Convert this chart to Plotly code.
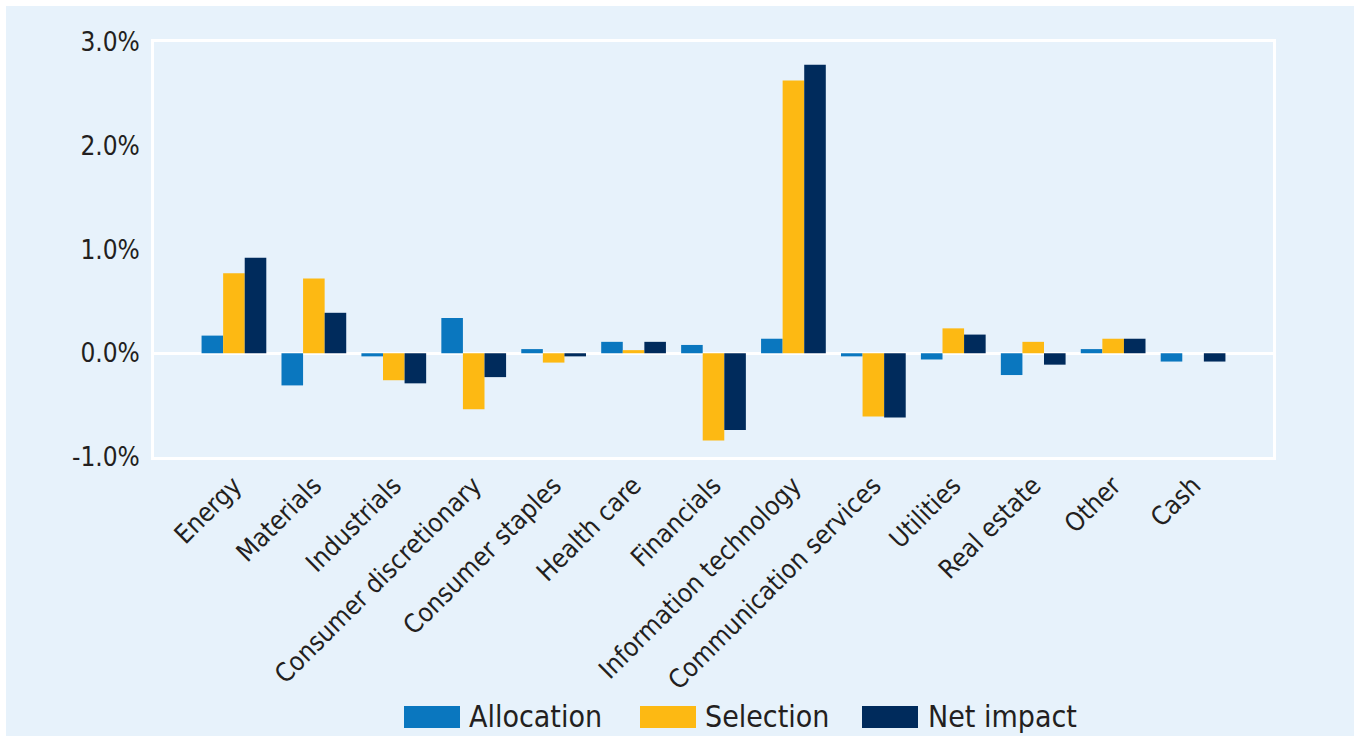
import plotly.graph_objects as go

categories = ["Energy", "Materials", "Industrials", "Consumer discretionary",
              "Consumer staples", "Health care", "Financials", "Information technology",
              "Communication services", "Utilities", "Real estate", "Other", "Cash"]
allocation = [0.17, -0.31, -0.03, 0.34, 0.04, 0.11, 0.08, 0.14, -0.03, -0.06, -0.21, 0.04, -0.08]
selection = [0.77, 0.72, -0.26, -0.54, -0.09, 0.03, -0.84, 2.63, -0.61, 0.24, 0.11, 0.14, 0.0]
net_impact = [0.92, 0.39, -0.29, -0.23, -0.03, 0.11, -0.74, 2.78, -0.62, 0.18, -0.11, 0.14, -0.08]
series_names = ["Allocation", "Selection", "Net impact"]
colors = ["#0A77BF", "#FDB913", "#002B5C"]
y_ticks = [-1, 0, 1, 2, 3]
y_tick_labels = [f"{v:.1f}%" for v in y_ticks]

BG = "#E7F2FB"
TXT = "#231F20"
FONT = "DejaVu Sans Condensed, Liberation Sans Narrow, Arial Narrow, sans-serif"

W, H = 1360, 738
L, R, T, B = 154, 87, 42, 281
pw, ph = W - L - R, H - T - B


def px_x(x):
    return (x - L) / pw


def px_y(y):
    return (H - B - y) / ph


fig = go.Figure()
for name, vals, col in zip(series_names, [allocation, selection, net_impact], colors):
    fig.add_trace(go.Bar(x=categories, y=vals, name=name, marker_color=col,
                         marker_line_width=0, showlegend=False))

shapes = [dict(type="rect", xref="paper", yref="paper", layer="below",
               x0=px_x(6), x1=px_x(1354), y0=px_y(736), y1=px_y(6),
               fillcolor=BG, line_width=0)]
annotations = []
legend_swatch_x = [404, 640, 862]
legend_text_x = [467, 703, 926]
for i, name in enumerate(series_names):
    shapes.append(dict(type="rect", xref="paper", yref="paper",
                       x0=px_x(legend_swatch_x[i]), x1=px_x(legend_swatch_x[i] + 56),
                       y0=px_y(728), y1=px_y(706), fillcolor=colors[i], line_width=0))
    annotations.append(dict(xref="paper", yref="paper", x=px_x(legend_text_x[i]),
                            y=px_y(716), text=name, showarrow=False, xanchor="left",
                            yanchor="middle", font=dict(family=FONT, size=30, color=TXT)))

fig.update_layout(
    width=W, height=H,
    margin=dict(l=L, r=R, t=T, b=B, autoexpand=False),
    paper_bgcolor="white", plot_bgcolor=BG,
    barmode="group", bargap=0.19, bargroupgap=0,
    font=dict(family=FONT, color=TXT),
    shapes=shapes, annotations=annotations,
    showlegend=False,
)
fig.update_xaxes(type="category", range=[-1.0, 13.0], showgrid=False, zeroline=False,
                 showline=True, mirror=True, linecolor="white", linewidth=3,
                 ticks="", tickangle=-45, tickfont=dict(family=FONT, size=26, color=TXT),
                 ticklabelstandoff=0)
fig.update_yaxes(range=[-1, 3], tickvals=y_ticks, ticktext=y_tick_labels,
                 showgrid=False, zeroline=True, zerolinecolor="white", zerolinewidth=3,
                 showline=True, mirror=True, linecolor="white", linewidth=3,
                 ticks="", tickfont=dict(family=FONT, size=26, color=TXT),
                 ticklabelstandoff=6)

fig.write_html("out.html", config={"displayModeBar": False},
               post_script="document.body.style.margin='0';")
